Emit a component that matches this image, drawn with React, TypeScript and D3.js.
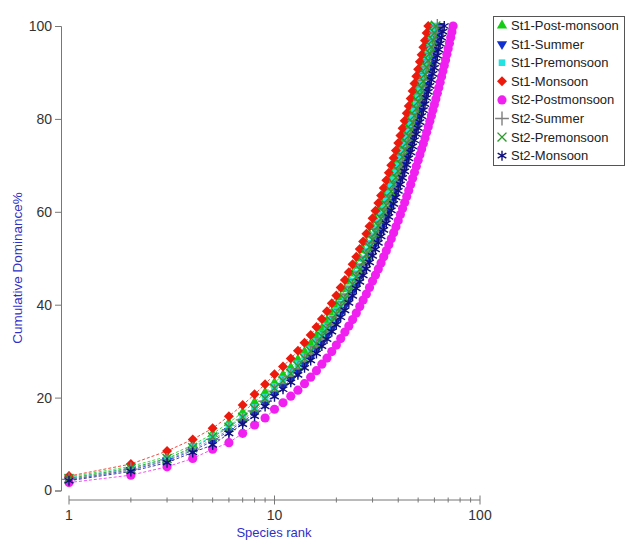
import React, { useEffect, useRef } from "react";
import * as d3 from "d3";

// cumulative dominance % by species rank (rank = index + 1)
const st1PostMonsoon = [
  2.9, 5.2, 7.3, 9.8, 12.2, 14.6, 16.8, 19.0, 21.1, 23.2,
  24.9, 26.5, 28.2, 29.9, 31.6, 33.3, 34.9, 36.6, 38.3, 40.0,
  41.6, 43.3, 45.0, 46.7, 48.4, 50.0, 51.7, 53.4, 55.1, 56.8,
  58.3, 59.9, 61.4, 63.0, 64.5, 66.1, 67.6, 69.2, 70.7, 72.3,
  73.8, 75.4, 76.9, 78.5, 80.0, 81.5, 83.1, 84.6, 86.1, 87.7,
  89.2, 90.7, 92.3, 93.8, 95.3, 96.9, 98.4, 100,
];
const st1Summer = [
  2.3, 4.4, 6.4, 8.6, 10.6, 12.8, 14.8, 16.6, 18.7, 20.8,
  22.4, 23.9, 25.5, 27.1, 28.7, 30.2, 31.8, 33.4, 34.9, 36.5,
  38.1, 39.7, 41.2, 42.8, 44.4, 45.9, 47.5, 49.1, 50.6, 52.2,
  53.6, 55.0, 56.4, 57.8, 59.2, 60.6, 62.0, 63.4, 64.9, 66.3,
  67.7, 69.1, 70.5, 71.9, 73.3, 74.7, 76.1, 77.5, 78.9, 80.3,
  81.7, 83.1, 84.5, 85.9, 87.3, 88.8, 90.2, 91.6, 93.0, 94.4,
  95.8, 97.2, 98.6, 100,
];
const st1Premonsoon = [
  2.7, 4.9, 6.8, 9.4, 11.7, 13.9, 16.0, 17.9, 20.1, 22.4,
  24.0, 25.6, 27.3, 28.9, 30.5, 32.1, 33.7, 35.4, 37.0, 38.6,
  40.2, 41.8, 43.5, 45.1, 46.7, 48.3, 49.9, 51.6, 53.2, 54.8,
  56.3, 57.8, 59.3, 60.8, 62.3, 63.9, 65.4, 66.9, 68.4, 69.9,
  71.4, 72.9, 74.4, 75.9, 77.4, 78.9, 80.4, 81.9, 83.4, 84.9,
  86.4, 87.9, 89.4, 90.9, 92.4, 93.9, 95.4, 96.9, 98.5, 100,
];
const st1Monsoon = [
  3.1, 5.7, 8.5, 11.0, 13.4, 16.0, 18.4, 20.7, 22.9, 25.0,
  26.7, 28.4, 30.1, 31.8, 33.5, 35.2, 36.9, 38.6, 40.3, 42.0,
  43.7, 45.3, 47.0, 48.7, 50.3, 52.0, 53.6, 55.3, 56.9, 58.6,
  60.2, 61.9, 63.5, 65.1, 66.8, 68.4, 70.0, 71.6, 73.2, 74.8,
  76.4, 78.0, 79.6, 81.2, 82.8, 84.4, 86.0, 87.6, 89.2, 90.7,
  92.3, 93.8, 95.4, 96.9, 98.5, 100,
];
const st2Postmonsoon = [
  1.7, 3.3, 5.1, 6.9, 8.9, 10.3, 12.3, 14.1, 15.6, 17.5,
  18.9, 20.3, 21.6, 23.0, 24.4, 25.8, 27.2, 28.5, 29.9, 31.3,
  32.7, 34.1, 35.4, 36.8, 38.2, 39.6, 41.0, 42.3, 43.7, 45.1,
  46.4, 47.7, 49.0, 50.3, 51.6, 52.9, 54.2, 55.5, 56.8, 58.1,
  59.4, 60.7, 62.0, 63.3, 64.6, 65.9, 67.2, 68.5, 69.8, 71.1,
  72.3, 73.5, 74.7, 75.9, 77.1, 78.3, 79.5, 80.7, 81.9, 83.1,
  84.3, 85.5, 86.7, 87.9, 89.1, 90.3, 91.5, 92.7, 93.9, 95.1,
  96.3, 97.5, 98.7, 100,
];
const st2Summer = [
  2.4, 4.6, 6.6, 8.9, 11.0, 13.1, 15.2, 17.1, 19.2, 21.4,
  23.0, 24.6, 26.2, 27.8, 29.4, 31.0, 32.6, 34.2, 35.8, 37.4,
  39.0, 40.6, 42.2, 43.8, 45.4, 47.0, 48.6, 50.2, 51.8, 53.4,
  54.9, 56.3, 57.8, 59.2, 60.7, 62.1, 63.6, 65.0, 66.5, 67.9,
  69.4, 70.9, 72.3, 73.8, 75.2, 76.7, 78.1, 79.6, 81.0, 82.5,
  84.0, 85.4, 86.9, 88.3, 89.8, 91.2, 92.7, 94.1, 95.6, 97.1,
  98.5, 100,
];
const st2Premonsoon = [
  2.6, 4.8, 6.9, 9.2, 11.5, 13.6, 15.8, 17.6, 19.8, 22.0,
  23.6, 25.2, 26.8, 28.4, 30.0, 31.6, 33.2, 34.8, 36.4, 38.0,
  39.6, 41.2, 42.8, 44.4, 46.0, 47.6, 49.2, 50.8, 52.4, 54.0,
  55.5, 57.0, 58.5, 59.9, 61.4, 62.9, 64.4, 65.9, 67.4, 68.8,
  70.3, 71.8, 73.3, 74.8, 76.3, 77.7, 79.2, 80.7, 82.2, 83.7,
  85.2, 86.6, 88.1, 89.6, 91.1, 92.6, 94.1, 95.5, 97.0, 98.5,
  100,
];
const st2Monsoon = [
  2.1, 4.1, 6.0, 8.2, 9.8, 12.3, 14.3, 16.0, 18.1, 20.2,
  21.8, 23.3, 24.9, 26.4, 28.0, 29.5, 31.1, 32.6, 34.2, 35.7,
  37.3, 38.8, 40.4, 41.9, 43.5, 44.9, 46.3, 47.7, 49.1, 50.5,
  51.9, 53.3, 54.7, 56.1, 57.5, 58.9, 60.3, 61.7, 63.1, 64.5,
  65.9, 67.3, 68.7, 70.1, 71.5, 72.8, 74.1, 75.4, 76.7, 78.0,
  79.3, 80.6, 81.9, 83.2, 84.5, 85.8, 87.1, 88.4, 89.7, 91.0,
  92.3, 93.6, 94.9, 96.2, 97.5, 98.8, 100,
];

const seriesNames = [
  "St1-Post-monsoon",
  "St1-Summer",
  "St1-Premonsoon",
  "St1-Monsoon",
  "St2-Postmonsoon",
  "St2-Summer",
  "St2-Premonsoon",
  "St2-Monsoon",
];
const seriesValues = [
  st1PostMonsoon,
  st1Summer,
  st1Premonsoon,
  st1Monsoon,
  st2Postmonsoon,
  st2Summer,
  st2Premonsoon,
  st2Monsoon,
];
const seriesColors = [
  "#14cc14",
  "#1030d0",
  "#22e2e2",
  "#ec1a0c",
  "#f020f0",
  "#808080",
  "#2a9a2a",
  "#10107e",
];

const xTickValues = [1, 10, 100];
const yTickValues = [0, 20, 40, 60, 80, 100];

const W = 627;
const H = 541;

// marker per series: [d3 symbol, size, filled, rotate]
const markers: [d3.SymbolType, number, boolean, number][] = [
  [d3.symbolTriangle, 46, true, 0],
  [d3.symbolTriangle, 46, true, 180],
  [d3.symbolSquare, 44, true, 0],
  [d3.symbolSquare, 50, true, 45],
  [d3.symbolCircle, 66, true, 0],
  [d3.symbolPlus, 64, false, 0],
  [d3.symbolTimes, 54, false, 0],
  [d3.symbolAsterisk, 70, false, 0],
];

const App = () => {
  const svgRef = useRef<SVGSVGElement>(null);

  useEffect(() => {
    const svg = d3.select(svgRef.current);
    svg.selectAll("*").remove();

    const x = d3.scaleLog().domain([1, 100]).range([69, 480]);
    const y = d3.scaleLinear().domain([0, 100]).range([490.5, 26]);
    const axisColor = "#777";
    const font = "Arial, 'Liberation Sans', sans-serif";

    // y axis
    const yAxis = svg
      .append("g")
      .attr("transform", "translate(61,0)")
      .call(d3.axisLeft(y).tickValues(yTickValues).tickSize(6).tickPadding(3));
    yAxis.select(".domain").attr("stroke", axisColor);
    yAxis.selectAll(".tick line").attr("stroke", axisColor);
    yAxis
      .selectAll(".tick text")
      .attr("fill", "#333")
      .style("font", `14px ${font}`);

    // x axis (log, ticks crossing the line)
    const xAxisY = 500;
    const xg = svg.append("g");
    xg.append("line")
      .attr("x1", x(1))
      .attr("x2", x(100))
      .attr("y1", xAxisY)
      .attr("y2", xAxisY)
      .attr("stroke", axisColor);
    const minor = x.ticks().filter((t) => !xTickValues.includes(t));
    xg.selectAll(".minor")
      .data(minor)
      .join("line")
      .attr("x1", (d) => x(d))
      .attr("x2", (d) => x(d))
      .attr("y1", xAxisY - 2.5)
      .attr("y2", xAxisY + 2.5)
      .attr("stroke", axisColor);
    xg.selectAll(".major")
      .data(xTickValues)
      .join("line")
      .attr("x1", (d) => x(d))
      .attr("x2", (d) => x(d))
      .attr("y1", xAxisY - 4.5)
      .attr("y2", xAxisY + 4.5)
      .attr("stroke", axisColor);
    xg.selectAll("text")
      .data(xTickValues)
      .join("text")
      .attr("x", (d) => x(d))
      .attr("y", 520)
      .attr("text-anchor", "middle")
      .attr("fill", "#333")
      .style("font", `14px ${font}`)
      .text((d) => d);

    // axis titles
    svg
      .append("text")
      .attr("x", 274)
      .attr("y", 537)
      .attr("text-anchor", "middle")
      .attr("fill", "#3030c8")
      .style("font", `13px ${font}`)
      .text("Species rank");
    svg
      .append("text")
      .attr("transform", "translate(22,268) rotate(-90)")
      .attr("text-anchor", "middle")
      .attr("fill", "#3030c8")
      .style("font", `13.5px ${font}`)
      .text("Cumulative Dominance%");

    const line = d3
      .line<number>()
      .x((d, i) => x(i + 1))
      .y((d) => y(d));

    const symbolPath = (k: number) =>
      d3.symbol().type(markers[k][0]).size(markers[k][1])() as string;

    const styleMarker = (sel: any, k: number) => {
      const filled = markers[k][2];
      sel
        .attr("fill", filled ? seriesColors[k] : "none")
        .attr("stroke", filled ? "none" : seriesColors[k])
        .attr("stroke-width", filled ? 0 : 1.4);
    };

    seriesValues.forEach((vals, k) => {
      const g = svg.append("g");
      g.append("path")
        .datum(vals)
        .attr("d", line)
        .attr("fill", "none")
        .attr("stroke", seriesColors[k])
        .attr("stroke-width", 0.8)
        .attr("stroke-dasharray", "3,2");
      const pts = g
        .selectAll("path.pt")
        .data(vals)
        .join("path")
        .attr("class", "pt")
        .attr("d", symbolPath(k))
        .attr(
          "transform",
          (d, i) => `translate(${x(i + 1)},${y(d)}) rotate(${markers[k][3]})`
        );
      styleMarker(pts, k);
    });

    // legend
    const lg = svg.append("g");
    lg.append("rect")
      .attr("x", 493.5)
      .attr("y", 16.5)
      .attr("width", 131)
      .attr("height", 149)
      .attr("fill", "#fff")
      .attr("stroke", "#555");
    seriesNames.forEach((name, k) => {
      const cy = 25.5 + k * 18.6;
      const m = lg
        .append("path")
        .attr("d", symbolPath(k))
        .attr("transform", `translate(502,${cy}) rotate(${markers[k][3]})`);
      styleMarker(m, k);
      lg.append("text")
        .attr("x", 511)
        .attr("y", cy + 4.5)
        .attr("fill", "#222")
        .style("font", `13px ${font}`)
        .text(name);
    });
  }, []);

  return (
    <svg
      ref={svgRef}
      width={W}
      height={H}
      style={{ position: "absolute", left: 0, top: 0, background: "#fff" }}
    />
  );
};

export default App;
